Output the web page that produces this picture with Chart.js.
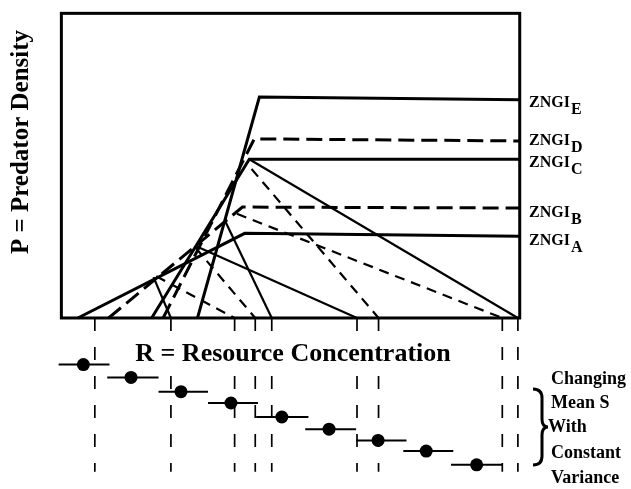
<!DOCTYPE html>
<html>
<head>
<meta charset="utf-8">
<script src="https://cdn.jsdelivr.net/npm/chart.js@4.4.1/dist/chart.umd.min.js"></script>
<style>
  html, body { margin: 0; padding: 0; background: #fff; }
  #wrap { width: 631px; height: 489px; }
</style>
</head>
<body>
<div id="wrap"><canvas id="chart" width="631" height="489"></canvas></div>
<script>
/* R and P are in percent of the plotting box (0..100 on both axes) */

/* ZNGIs: where each leaves the R axis, its corner, and its flat level at the right edge */
var zngiNames   = ['A', 'B', 'C', 'D', 'E'];
var zngiStartR  = [3.6, 10.3, 19.7, 22.2, 29.7];
var zngiCornerR = [40.0, 39.5, 41.0, 42.1, 43.2];
var zngiCornerP = [27.8, 36.4, 52.1, 58.8, 72.5];
var zngiEndP    = [26.8, 36.1, 52.1, 58.1, 71.6];
var zngiDashed  = [false, true, false, true, false];

/* boundary lines running from the ZNGI crossings down to the R axis */
var boundFromR  = [20.1, 20.7, 29.3, 29.3, 35.7, 41.5, 38.3, 41.0];
var boundFromP  = [13.4, 13.7, 23.6, 23.0, 31.9, 48.9, 34.2, 52.1];
var boundToR    = [23.9, 37.8, 64.5, 42.3, 45.9, 69.2, 96.2, 99.6];
var boundDashed = [false, true, false, true, false, true, true, false];

/* R values marked under the axis */
var cutR = [7.3, 23.9, 37.8, 42.3, 45.9, 64.5, 69.2, 96.2, 99.6];

/* supply points: mean S with its range, one row each below the box */
var meanS = [4.8, 15.2, 26.1, 37.0, 48.1, 58.4, 69.1, 79.6, 90.6];
var lowS  = [-0.6, 10.0, 21.2, 32.0, 42.5, 53.2, 64.3, 74.6, 85.0];
var highS = [10.5, 21.2, 32.0, 42.9, 53.9, 64.3, 75.3, 85.5, 96.2];
var rowS  = [-15.3, -19.5, -24.2, -27.9, -32.5, -36.5, -40.2, -43.7, -48.2];

var noteLines = ['Changing', 'Mean S', 'With', 'Constant', 'Variance'];

var SERIF = '"Liberation Serif", "Times New Roman", serif';

function lineSet(points, width, dash) {
  return {
    data: points,
    showLine: true,
    borderColor: '#000',
    borderWidth: width,
    borderDash: dash,
    pointRadius: 0,
    pointHoverRadius: 0,
    fill: false,
    tension: 0
  };
}

var datasets = [];

zngiNames.forEach(function (name, i) {
  datasets.push(lineSet([
    {x: zngiStartR[i], y: 0},
    {x: zngiCornerR[i], y: zngiCornerP[i]},
    {x: 100, y: zngiEndP[i]}
  ], 3, zngiDashed[i] ? [16, 7] : []));
});

boundFromR.forEach(function (r, i) {
  datasets.push(lineSet([
    {x: r, y: boundFromP[i]},
    {x: boundToR[i], y: 0}
  ], 2.2, boundDashed[i] ? [10, 7] : []));
});

cutR.forEach(function (r) {
  datasets.push(lineSet([{x: r, y: 0}, {x: r, y: -50.5}], 1.7, [13, 16]));
});

/* ranges as one broken line */
var rangePts = [];
meanS.forEach(function (m, i) {
  rangePts.push({x: lowS[i], y: rowS[i]});
  rangePts.push({x: highS[i], y: rowS[i]});
  rangePts.push({x: highS[i], y: null});
});
var rangeSet = lineSet(rangePts, 2, []);
rangeSet.spanGaps = false;
datasets.push(rangeSet);

datasets.push({
  data: meanS.map(function (m, i) { return {x: m, y: rowS[i]}; }),
  showLine: false,
  pointRadius: 6.5,
  pointHoverRadius: 6.5,
  pointBackgroundColor: '#000',
  pointBorderColor: '#000',
  pointBorderWidth: 0
});

/* box, axis titles, ZNGI labels and the note on the right */
var decor = {
  id: 'decor',
  afterDatasetsDraw: function (chart) {
    var ctx = chart.ctx;
    var xs = chart.scales.x, ys = chart.scales.y;
    var x0 = xs.getPixelForValue(0), x1 = xs.getPixelForValue(100);
    var y0 = ys.getPixelForValue(0), y1 = ys.getPixelForValue(100);

    ctx.save();
    ctx.strokeStyle = '#000';
    ctx.lineWidth = 3;
    ctx.strokeRect(x0, y1, x1 - x0, y0 - y1);

    ctx.fillStyle = '#000';
    ctx.textBaseline = 'alphabetic';

    /* x title sits on a white band over the cut lines */
    ctx.font = 'bold 26px ' + SERIF;
    var xt = 'R = Resource Concentration';
    var w = ctx.measureText(xt).width;
    ctx.fillStyle = '#fff';
    ctx.fillRect(293 - w / 2 - 2, 338, w + 4, 27);
    ctx.fillStyle = '#000';
    ctx.textAlign = 'center';
    ctx.fillText(xt, 293, 361);

    ctx.save();
    ctx.translate(28, 142);
    ctx.rotate(-Math.PI / 2);
    ctx.font = 'bold 25px ' + SERIF;
    ctx.fillText('P = Predator Density', 0, 0);
    ctx.restore();

    var offs = [9, 9, 8, 4, 7];
    ctx.textAlign = 'left';
    zngiNames.forEach(function (name, i) {
      var by = ys.getPixelForValue(zngiEndP[i]) + offs[i];
      ctx.font = 'bold 16px ' + SERIF;
      ctx.fillText('ZNGI', 529, by);
      var zw = ctx.measureText('ZNGI').width;
      ctx.font = 'bold 16px ' + SERIF;
      ctx.fillText(name, 529 + zw + 1, by + 7);
    });

    ctx.font = 'bold 18px ' + SERIF;
    var noteY = [384, 408, 432, 458, 483];
    noteLines.forEach(function (t, i) {
      ctx.fillText(t, t === 'With' ? 548 : 551, noteY[i]);
    });

    ctx.lineWidth = 3;
    ctx.beginPath();
    ctx.moveTo(533, 389);
    ctx.quadraticCurveTo(542, 389, 542, 398);
    ctx.lineTo(542, 419);
    ctx.quadraticCurveTo(542, 427, 548, 427);
    ctx.quadraticCurveTo(542, 427, 542, 435);
    ctx.lineTo(542, 456);
    ctx.quadraticCurveTo(542, 465, 533, 465);
    ctx.stroke();
    ctx.restore();
  }
};

var ctx = document.getElementById('chart').getContext('2d');
var chart = new Chart(ctx, {
  type: 'scatter',
  data: {datasets: datasets},
  options: {
    responsive: false,
    animation: false,
    events: [],
    layout: {padding: 0},
    plugins: {legend: {display: false}, tooltip: {enabled: false}},
    scales: {
      x: {type: 'linear', min: -11.97, max: 122.86, display: false},
      y: {type: 'linear', min: -54.0, max: 102.24, display: false}
    }
  },
  plugins: [decor]
});
</script>
</body>
</html>
